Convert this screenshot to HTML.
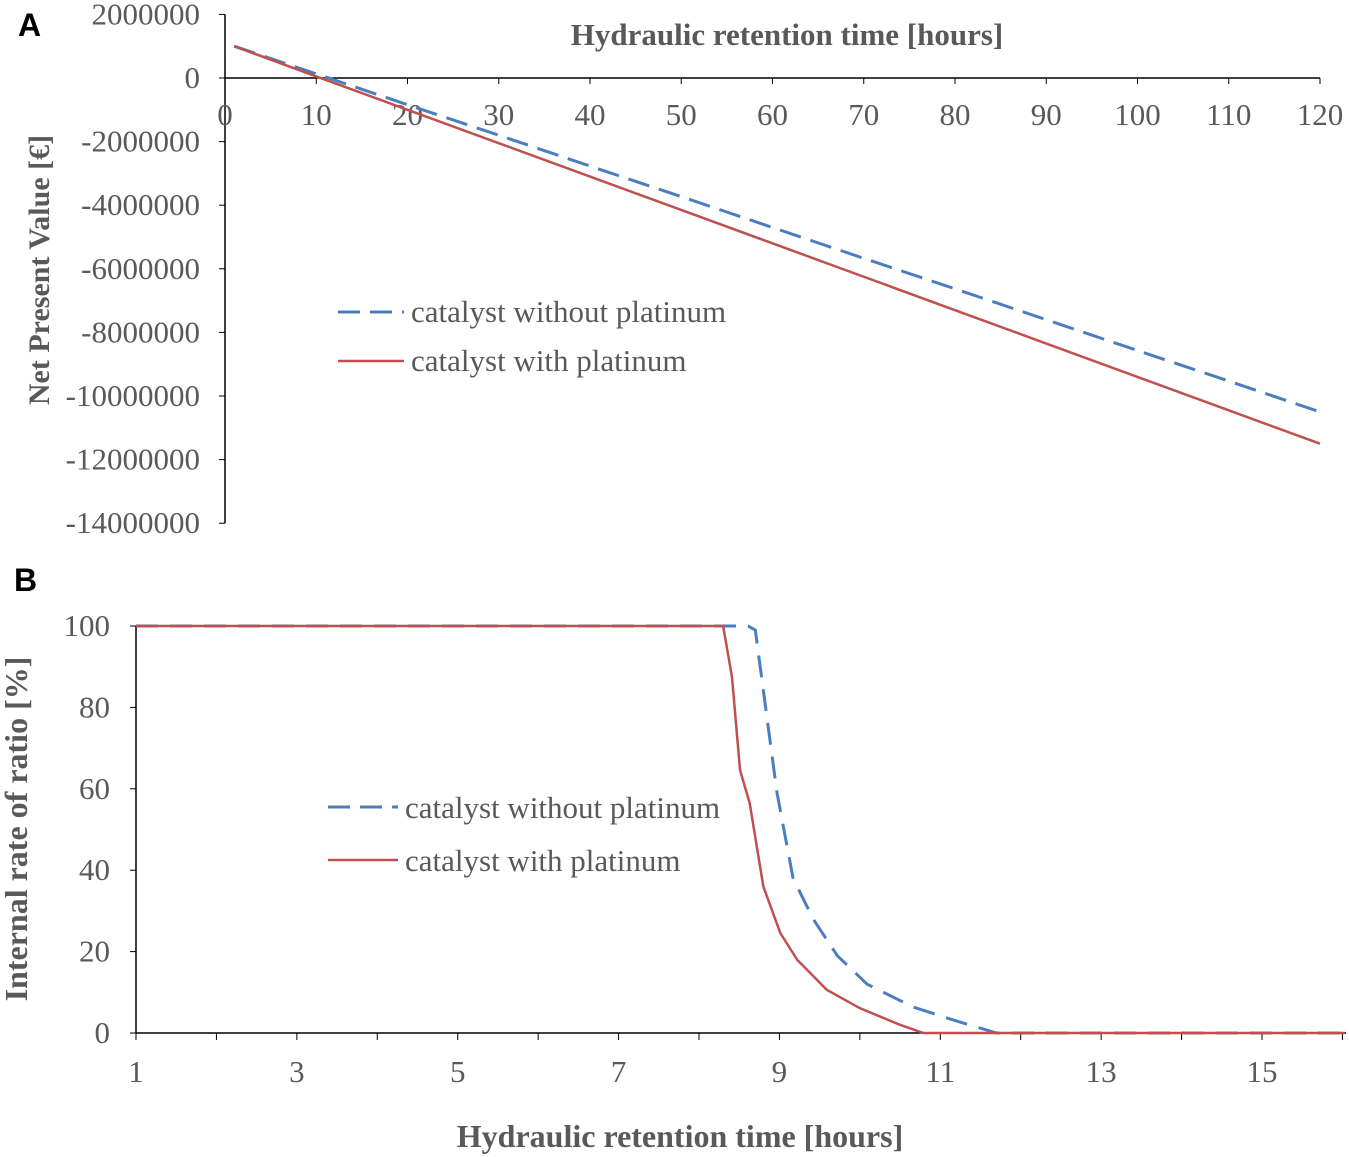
<!DOCTYPE html>
<html><head><meta charset="utf-8"><style>
body{margin:0;background:#fff;}
svg{display:block;font-family:"Liberation Serif",serif;}
</style></head><body>
<svg id="c" width="1349" height="1157"></svg>
<script>
const hrsA=[1,10,20,30,40,50,60,70,80,90,100,110,120];
const npvBlue=[1000000,130000,-840000,-1800000,-2770000,-3730000,-4700000,-5670000,-6630000,-7600000,-8570000,-9530000,-10500000];
const npvRed=[1000000,50000,-1000000,-2050000,-3100000,-4150000,-5200000,-6250000,-7300000,-8350000,-9400000,-10450000,-11500000];
const xTicksA=[0,10,20,30,40,50,60,70,80,90,100,110,120];
const yTicksA=[2000000,0,-2000000,-4000000,-6000000,-8000000,-10000000,-12000000,-14000000];
const hrsBlueB=[1,8.61,8.7,8.97,9.17,9.42,9.72,10.09,10.66,11.16,11.7,16.03];
const irrBlue=[100,100,99,59,38,28,19,12,6.4,3.2,0,0];
const hrsRedB=[1,8.3,8.41,8.51,8.63,8.8,9.01,9.22,9.59,10.0,10.5,10.79,16.03];
const irrRed=[100,100,87.5,64.6,56.5,36,24.6,18,10.6,6.1,2,0,0];
const xTicksB=[1,3,5,7,9,11,13,15];
const yTicksB=[0,20,40,60,80,100];

const S="http://www.w3.org/2000/svg",svg=document.getElementById('c');
function el(t,a,p){const e=document.createElementNS(S,t);for(const k in a)e.setAttribute(k,a[k]);(p||svg).appendChild(e);return e;}
function tx(x,y,s,a){const e=el('text',Object.assign({x:x,y:y,fill:'#595959','font-size':31},a));e.textContent=s;return e;}
const BLUE='#4a7ebf',RED='#c0504d';

// Chart A
const xA=v=>225+v*(1320-225)/120, yA=v=>78-v*(63.6/2000000);
let t=tx(18,36,'A',{fill:'#000','font-family':'Liberation Sans,sans-serif','font-weight':'bold','font-size':32});

let l=el('line',{x1:225,x2:225,y1:yA(2000000),y2:yA(-14000000),stroke:'#000','stroke-width':1.5});

l=el('line',{x1:225,x2:1320,y1:78,y2:78,stroke:'#000','stroke-width':1.5});

yTicksA.forEach(v=>{el('line',{x1:219,x2:225,y1:yA(v),y2:yA(v),stroke:'#000'});
 t=tx(200,yA(v)+10,String(v),{'text-anchor':'end'});});
xTicksA.forEach(v=>{el('line',{x1:xA(v),x2:xA(v),y1:78,y2:84,stroke:'#000'});
 t=tx(xA(v),125,String(v),{'text-anchor':'middle'});});
t=tx(787,45,'Hydraulic retention time [hours]',{'text-anchor':'middle','font-weight':'bold','font-size':31});

t=tx(49,270,'Net Present Value [€]',{'text-anchor':'middle','font-weight':'bold','font-size':30,transform:'rotate(-90 49 270)'});

let p=el('polyline',{points:hrsA.map((h,i)=>xA(h)+','+yA(npvBlue[i])).join(' '),fill:'none',stroke:BLUE,'stroke-width':3,'stroke-dasharray':'22,10'});

p=el('polyline',{points:hrsA.map((h,i)=>xA(h)+','+yA(npvRed[i])).join(' '),fill:'none',stroke:RED,'stroke-width':2.5});

l=el('line',{x1:338,x2:404,y1:312,y2:312,stroke:BLUE,'stroke-width':3,'stroke-dasharray':'22,10'});

t=tx(411,322,'catalyst without platinum',{'font-size':31});
l=el('line',{x1:338,x2:404,y1:361,y2:361,stroke:RED,'stroke-width':2.5});

t=tx(411,371,'catalyst with platinum',{'font-size':31});

// Chart B
const xB=v=>136+(v-1)*(1262-136)/14, yB=v=>1033-v*4.07;
t=tx(14,591,'B',{fill:'#000','font-family':'Liberation Sans,sans-serif','font-weight':'bold','font-size':32});

l=el('line',{x1:136,x2:136,y1:yB(100),y2:1033,stroke:'#000','stroke-width':1.5});

l=el('line',{x1:136,x2:1346,y1:1033,y2:1033,stroke:'#000','stroke-width':1.5});

yTicksB.forEach(v=>{el('line',{x1:130,x2:136,y1:yB(v),y2:yB(v),stroke:'#000'});
 t=tx(110,yB(v)+10,String(v),{'text-anchor':'end'});});
for(let v=1;v<=16;v++)el('line',{x1:xB(v),x2:xB(v),y1:1033,y2:1040,stroke:'#000'});
xTicksB.forEach(v=>{t=tx(xB(v),1082,String(v),{'text-anchor':'middle'});});
t=tx(680,1147,'Hydraulic retention time [hours]',{'text-anchor':'middle','font-weight':'bold','font-size':32});

t=tx(27,829,'Internal rate of ratio [%]',{'text-anchor':'middle','font-weight':'bold','font-size':32,transform:'rotate(-90 27 829)'});

p=el('polyline',{points:hrsBlueB.map((h,i)=>xB(h)+','+yB(irrBlue[i])).join(' '),fill:'none',stroke:BLUE,'stroke-width':3,'stroke-dasharray':'22,12'});

p=el('polyline',{points:hrsRedB.map((h,i)=>xB(h)+','+yB(irrRed[i])).join(' '),fill:'none',stroke:RED,'stroke-width':2.5});

l=el('line',{x1:328,x2:398,y1:807,y2:807,stroke:BLUE,'stroke-width':3,'stroke-dasharray':'22,10'});

t=tx(405,818,'catalyst without platinum',{'font-size':31});
l=el('line',{x1:328,x2:398,y1:860,y2:860,stroke:RED,'stroke-width':2.5});

t=tx(405,871,'catalyst with platinum',{'font-size':31});
</script>
</body></html>
